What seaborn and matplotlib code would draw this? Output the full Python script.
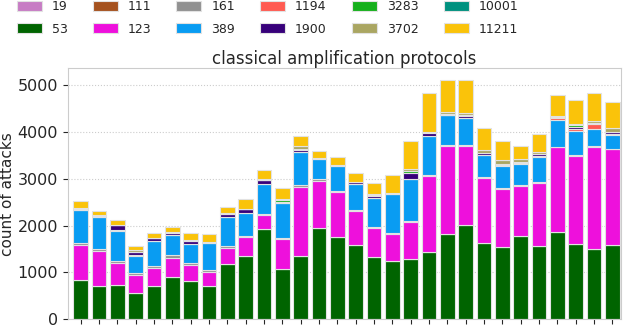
import matplotlib
matplotlib.use("Agg")
import matplotlib.pyplot as plt
import seaborn as sns
import numpy as np

# protocols (ports) in stacking order, bottom to top
ports = ["19", "53", "111", "123", "161", "389", "1194", "1900", "3283", "3702", "10001", "11211"]
colors = ["#c77cc4", "#006400", "#a5521f", "#ee10dc", "#919191", "#099cf2",
          "#ff5b52", "#37007a", "#16b01c", "#aaa662", "#00917f", "#fac30a"]

p19 = [5, 5, 5, 5, 5, 5, 5, 5, 5, 5, 5, 5, 5, 5, 5, 5, 5, 5, 5, 5, 5, 5, 5, 5, 5, 5, 5, 5, 5, 5]
p53 = [835, 715, 735, 550, 710, 890, 810, 710, 1175, 1355, 1930, 1070, 1355, 1950, 1745, 1575, 1320, 1245,
       1290, 1440, 1810, 2015, 1630, 1545, 1780, 1565, 1865, 1595, 1490, 1575]
p111 = [0, 0, 0, 0, 0, 0, 0, 0, 0, 0, 0, 0, 0, 0, 0, 0, 0, 0, 0, 0, 0, 0, 0, 0, 0, 0, 0, 0, 0, 0]
p123 = [740, 740, 455, 385, 380, 420, 335, 300, 340, 395, 295, 630, 1465, 1005, 960, 725, 615, 575,
        790, 1620, 1890, 1685, 1375, 1225, 1055, 1345, 1800, 1890, 2180, 2050]
p161 = [45, 40, 50, 50, 45, 50, 45, 45, 55, 25, 25, 35, 35, 40, 25, 20, 20, 20,
        15, 15, 15, 20, 20, 20, 20, 20, 15, 20, 15, 15]
p389 = [700, 685, 645, 365, 540, 440, 410, 560, 610, 480, 625, 735, 710, 425, 530, 560, 635, 830,
        890, 825, 635, 580, 475, 475, 460, 535, 560, 505, 380, 280]
p1194 = [0, 0, 15, 15, 0, 0, 0, 0, 0, 0, 0, 0, 0, 0, 0, 0, 0, 0,
         0, 0, 0, 0, 10, 20, 15, 25, 55, 50, 100, 40]
p1900 = [35, 25, 100, 70, 45, 45, 60, 25, 55, 100, 95, 35, 45, 15, 20, 40, 35, 25,
         125, 65, 10, 40, 25, 30, 25, 25, 25, 50, 30, 35]
p3283 = [0, 0, 0, 0, 0, 0, 0, 0, 0, 0, 0, 35, 15, 0, 0, 0, 20, 0,
         50, 20, 15, 25, 0, 0, 0, 0, 0, 25, 0, 0]
p3702 = [20, 20, 0, 30, 20, 15, 25, 10, 35, 0, 0, 20, 70, 10, 0, 10, 15, 5,
         45, 15, 50, 30, 65, 85, 60, 50, 0, 35, 35, 85]
p10001 = [0, 0, 0, 0, 0, 0, 0, 0, 0, 0, 20, 0, 0, 0, 0, 0, 0, 0,
          0, 0, 0, 0, 0, 0, 0, 0, 25, 0, 0, 0]
p11211 = [135, 90, 105, 85, 100, 105, 145, 160, 130, 200, 190, 240, 215, 140, 180, 195, 240, 370,
          600, 825, 680, 705, 475, 405, 285, 385, 430, 510, 605, 555]

series = [p19, p53, p111, p123, p161, p389, p1194, p1900, p3283, p3702, p10001, p11211]
days = list(range(len(p53)))

sns.set_style("whitegrid", {"grid.linestyle": ":", "xtick.bottom": True, "ytick.left": True,
                            "axes.edgecolor": ".8"})

fig = plt.figure(figsize=(6.23, 3.27), dpi=100)
ax = fig.add_axes([0.109, 0.0235, 0.888, 0.768])

bottom = np.zeros(len(days))
for name, vals, c in zip(ports, series, colors):
    sns.barplot(x=days, y=vals, bottom=bottom, color=c, saturation=1, errorbar=None,
                width=0.8, edgecolor="#e2e2e2", linewidth=0.8, label=name, ax=ax)
    bottom = bottom + np.array(vals)

if ax.get_legend() is not None:
    ax.get_legend().remove()

ax.set_xlim(-0.69, 29.48)
ax.set_ylim(0, 5360)
ax.set_yticks([0, 1000, 2000, 3000, 4000, 5000])
ax.tick_params(axis="y", labelsize=11.5, length=3.5)
ax.tick_params(axis="x", labelbottom=False, length=3.5)
ax.xaxis.grid(False)
ax.set_xlabel("")
ax.set_ylabel("count of attacks", fontsize=11, labelpad=1.5)
ax.set_title("classical amplification protocols", fontsize=12, pad=3)

handles, labels = ax.get_legend_handles_labels()
fig.legend(handles, labels, ncol=6, loc="upper left", bbox_to_anchor=(0.009, 1.033),
           frameon=False, fontsize=9, labelspacing=0.74, handleheight=0.85)

fig.savefig("out.png", dpi=100)
